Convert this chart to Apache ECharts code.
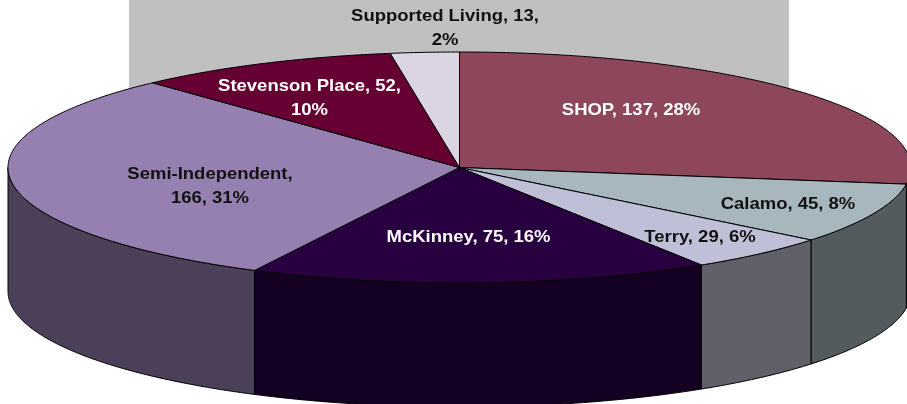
<!DOCTYPE html>
<html>
<head>
<meta charset="utf-8">
<style>html,body{margin:0;padding:0;background:#fff}#c{width:907px;height:404px}</style>
<script src="https://cdn.jsdelivr.net/npm/echarts@6/dist/echarts.min.js"></script>
</head>
<body>
<div id="c"></div>
<script>
// Data
var categories = ['SHOP', 'Calamo', 'Terry', 'McKinney', 'Semi-Independent', 'Stevenson Place', 'Supported Living'];
var counts = [137, 45, 29, 75, 166, 52, 13];
var percentLabels = [28, 8, 6, 16, 31, 10, 2];
var sliceShares = [27.3, 8.5, 5.2, 16.5, 30.6, 9.45, 2.45]; // drawn share of the circle, read from slice edges

// Styling
var topColors = ['#8E465B', '#A7B7BD', '#BFBFD7', '#280040', '#9680B1', '#660033', '#DAD4E3'];
var sideColors = ['#47232D', '#535B5E', '#60606B', '#140020', '#4B4058', '#33001A', '#6D6A71'];
var textColors = ['#fff', '#111', '#111', '#fff', '#111', '#fff', '#111'];

// Layout of the 3D disc (pixels)
var cx = 459.5, cy = 167.5, rx = 451.5, ry = 115.5, depth = 124;
var labelPos = [[631, 110], [788, 204], [700, 237], [468.5, 237], [210, 186], [309.5, 98.5], [445, 28.5]];

var total = sliceShares.reduce(function (a, b) { return a + b; }, 0);
function rad(d) { return d * Math.PI / 180; }
function rim(deg, dy) {
  return [cx + rx * Math.cos(rad(deg)), cy + ry * Math.sin(rad(deg)) + (dy || 0)];
}
function arcPoints(a, b, dy) {
  var pts = [], n = Math.max(2, Math.ceil(Math.abs(b - a) * 2));
  for (var i = 0; i <= n; i++) pts.push(rim(a + (b - a) * i / n, dy));
  return pts;
}
function labelText(i) {
  if (i === 4) return categories[i] + ',\n' + counts[i] + ', ' + percentLabels[i] + '%';
  if (i >= 5) return categories[i] + ', ' + counts[i] + ',\n' + percentLabels[i] + '%';
  return categories[i] + ', ' + counts[i] + ', ' + percentLabels[i] + '%';
}

function renderItem(params, api) {
  var i = params.dataIndex;
  var before = 0;
  for (var k = 0; k < i; k++) before += sliceShares[k];
  var start = -90 + before / total * 360;
  var end = start + api.value(2) / total * 360;
  var children = [];
  var sa = Math.max(start, 0), sb = Math.min(end, 180);
  if (sb > sa) {
    children.push({
      type: 'polygon', z2: 1,
      shape: { points: arcPoints(sa, sb, 0).concat(arcPoints(sb, sa, depth)) },
      style: { fill: sideColors[i], stroke: '#000', lineWidth: 1 }
    });
  }
  children.push({
    type: 'polygon', z2: 2,
    shape: { points: [[cx, cy]].concat(arcPoints(start, end, 0)) },
    style: { fill: topColors[i], stroke: '#000', lineWidth: 1, lineJoin: 'round' }
  });
  children.push({
    type: 'text', z2: 10,
    x: labelPos[i][0], y: labelPos[i][1], scaleX: 1.087, scaleY: 1,
    style: {
      text: labelText(i), x: 0, y: 0,
      fill: textColors[i], align: 'center', verticalAlign: 'middle',
      font: 'bold 17px "Liberation Sans", Arial, sans-serif', lineHeight: 24
    }
  });
  return { type: 'group', children: children };
}

var chart = echarts.init(document.getElementById('c'), null, { renderer: 'canvas' });
chart.setOption({
  animation: false,
  backgroundColor: '#fff',
  graphic: [{
    type: 'rect', z: 0,
    shape: { x: 129, y: 0, width: 660, height: 110 },
    style: { fill: '#C0C0C0' }
  }],
  series: [{
    type: 'custom',
    coordinateSystem: 'none',
    renderItem: renderItem,
    data: categories.map(function (c, i) {
      return { name: c, value: [counts[i], percentLabels[i], sliceShares[i]] };
    })
  }]
});
</script>
</body>
</html>
